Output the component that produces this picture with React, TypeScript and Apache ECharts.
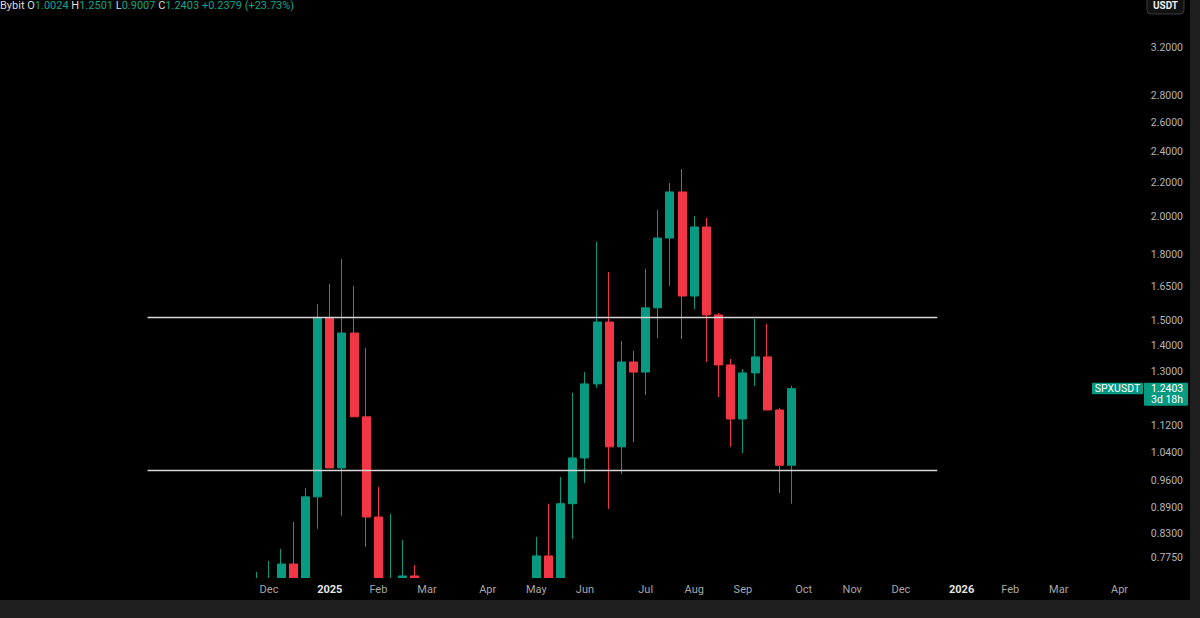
import React, { useEffect, useRef } from "react";
import * as echarts from "echarts";

// ---------- data ----------
const MONTHS = ["Jan", "Feb", "Mar", "Apr", "May", "Jun", "Jul", "Aug", "Sep", "Oct", "Nov", "Dec"];

// weekly calendar of the axis (Monday of each week), Jul 2024 -> Apr 2026
function buildWeeks(y: number, m: number, d: number, n: number): string[] {
  const out: string[] = [];
  const t0 = Date.UTC(y, m, d);
  for (let i = 0; i < n; i++) out.push(new Date(t0 + i * 7 * 86400000).toISOString().slice(0, 10));
  return out;
}
const WEEKS = buildWeeks(2024, 6, 8, 93);
const firstLabelWeek = "2024-12-02";

const candleDates = [
  "2024-11-25", "2024-12-02", "2024-12-09", "2024-12-16", "2024-12-23", "2024-12-30",
  "2025-01-06", "2025-01-13", "2025-01-20", "2025-01-27", "2025-02-03", "2025-02-10",
  "2025-02-17", "2025-02-24",
  "2025-05-05", "2025-05-12", "2025-05-19", "2025-05-26", "2025-06-02", "2025-06-09",
  "2025-06-16", "2025-06-23", "2025-06-30", "2025-07-07", "2025-07-14", "2025-07-21",
  "2025-07-28", "2025-08-04", "2025-08-11", "2025-08-18", "2025-08-25", "2025-09-01",
  "2025-09-08", "2025-09-15", "2025-09-22", "2025-09-29",
];
const opens = [
  0.62, 0.70, 0.71, 0.7616, 0.70, 0.918, 1.51, 0.995, 1.448, 1.147, 0.868, 0.66, 0.70, 0.7367,
  0.62, 0.7789, 0.71, 0.9007, 1.023, 1.257, 1.493, 1.055, 1.336, 1.299, 1.553, 1.886,
  2.144, 1.605, 1.945, 1.523, 1.325, 1.14, 1.296, 1.355, 1.169, 1.0024,
];
const closes = [
  0.70, 0.71, 0.7616, 0.70, 0.918, 1.51, 0.995, 1.448, 1.147, 0.868, 0.66, 0.70, 0.7367, 0.60,
  0.7789, 0.71, 0.9007, 1.023, 1.257, 1.493, 1.055, 1.336, 1.299, 1.553, 1.886, 2.144,
  1.605, 1.945, 1.523, 1.325, 1.14, 1.296, 1.355, 1.169, 1.0024, 1.2403,
];
const lows = [
  0.58, 0.63, 0.66, 0.64, 0.67, 0.84, 0.995, 0.871, 1.147, 0.799, 0.62, 0.58, 0.62, 0.55,
  0.58, 0.66, 0.68, 0.8167, 0.954, 1.243, 0.8877, 0.978, 1.069, 1.219, 1.428, 1.651,
  1.424, 1.547, 1.336, 1.212, 1.055, 1.037, 1.25, 1.169, 0.928, 0.9007,
];
const highs = [
  0.745, 0.768, 0.794, 0.856, 0.941, 1.57, 1.66, 1.78, 1.651, 1.389, 0.944, 0.8755, 0.8144, 0.7594,
  0.821, 0.9007, 0.97, 1.226, 1.299, 1.866, 1.716, 1.416, 1.378, 1.731, 2.039, 2.198,
  2.285, 2.005, 1.994, 1.531, 1.347, 1.31, 1.506, 1.485, 1.176, 1.2501,
];

const priceTicks = [3.2, 2.8, 2.6, 2.4, 2.2, 2.0, 1.8, 1.65, 1.5, 1.4, 1.3, 1.12, 1.04, 0.96, 0.89, 0.83, 0.775];
const priceRange = [0.7325, 3.657];

const levelPrices = [1.512, 0.988];
const levelSpan = ["2024-09-23", "2025-12-22"];

const lastClose = 1.2403;
const symbolName = "SPXUSDT";
const countdown = "3d 18h";
const legendValues = { o: "1.0024", h: "1.2501", l: "0.9007", c: "1.2403", chg: "+0.2379 (+23.73%)" };

// ---------- styles ----------
const UP = "#089981";
const DOWN = "#f23645";
const FONT = "Roboto, 'Noto Sans', sans-serif";

function buildOption() {
  const idx: Record<string, number> = {};
  candleDates.forEach((d, i) => (idx[d] = i));
  const seriesData = WEEKS.map((w) => {
    const i = idx[w];
    if (i === undefined) return "-";
    return [Math.log(opens[i]), Math.log(closes[i]), Math.log(lows[i]), Math.log(highs[i])];
  });

  return {
    animation: false,
    backgroundColor: "#000000",
    grid: { left: 7.8, right: 62.25, top: 0, bottom: 40, containLabel: false, outerBoundsMode: "none" },
    xAxis: {
      type: "category",
      z: 20,
      data: WEEKS,
      boundaryGap: true,
      axisLine: { show: false },
      axisTick: { show: false },
      splitLine: { show: false },
      axisLabel: {
        interval: (_i: number, v: string) => v >= firstLabelWeek && Number(v.slice(8, 10)) <= 7,
        margin: 6,
        fontFamily: FONT,
        fontSize: 11,
        color: "#a6a6a6",
        formatter: (v: string) => {
          const m = Number(v.slice(5, 7)) - 1;
          if (m === 0) return "{y|" + v.slice(0, 4) + "}";
          return MONTHS[m];
        },
        rich: { y: { fontFamily: FONT, fontSize: 11, fontWeight: "bold", color: "#e6e6e6" } },
      },
    },
    yAxis: {
      type: "value",
      position: "right",
      z: 20,
      min: Math.log(priceRange[0]),
      max: Math.log(priceRange[1]),
      scale: true,
      axisLine: { show: false },
      axisTick: { show: false },
      splitLine: { show: false },
      axisLabel: {
        customValues: priceTicks.map((p) => Math.log(p)),
        formatter: (v: number) => Math.exp(v).toFixed(4),
        margin: 13,
        fontFamily: FONT,
        fontSize: 10.5,
        color: "#b4b4b4",
      },
    },
    series: [
      {
        type: "candlestick",
        z: 2,
        data: seriesData,
        barWidth: 8.5,
        clip: true,
        itemStyle: { color: UP, color0: DOWN, borderColor: UP, borderColor0: DOWN, borderWidth: 1 },
        markLine: {
          silent: true,
          symbol: ["none", "none"],
          label: { show: false },
          lineStyle: { color: "#d6d6d6", width: 1.3, type: "solid" },
          data: levelPrices.map((p) => [
            { coord: [levelSpan[0], Math.log(p)] },
            { coord: [levelSpan[1], Math.log(p)] },
          ]),
        },
      },
    ],
  };
}

function buildGraphic(yc: number, plotBottom: number) {
  return [
    // black band under the plot so partially hidden candles end at the plot edge
    { type: "rect", z: 10, shape: { x: 0, y: plotBottom, width: 1190, height: 600 - plotBottom }, style: { fill: "#000000" } },
    { type: "rect", z: 100, shape: { x: 1190, y: 0, width: 10, height: 618 }, style: { fill: "#1e1e1e" } },
    { type: "rect", z: 100, shape: { x: 0, y: 600, width: 1200, height: 18 }, style: { fill: "#1e1e1e" } },
    {
      type: "rect",
      z: 100,
      shape: { x: 1147, y: -6, width: 37, height: 20, r: 4 },
      style: { fill: "#121212", stroke: "#3a3a3a", lineWidth: 1 },
    },
    {
      type: "text",
      z: 101,
      x: 1165.5,
      y: 5,
      style: { text: "USDT", fill: "#ececec", font: "bold 10px " + FONT, align: "center", verticalAlign: "middle" },
    },
    {
      type: "text",
      z: 101,
      x: 0,
      y: 5.5,
      style: {
        text:
          "{w|Bybit} {w|O}{g|" + legendValues.o + "} {w|H}{g|" + legendValues.h + "} {w|L}{g|" +
          legendValues.l + "} {w|C}{g|" + legendValues.c + "} {g|" + legendValues.chg + "}",
        font: "11px " + FONT,
        verticalAlign: "middle",
        align: "left",
        fill: "#dcdcdc",
        rich: {
          w: { fill: "#dcdcdc", font: "11px " + FONT },
          g: { fill: "#11a688", font: "11px " + FONT },
        },
      },
    },
    {
      type: "rect",
      z: 100,
      shape: { x: 1092, y: yc - 6, width: 51, height: 11.5, r: 1 },
      style: { fill: UP },
    },
    {
      type: "text",
      z: 101,
      x: 1117.5,
      y: yc - 0.2,
      style: { text: symbolName, fill: "#ffffff", font: "10.5px " + FONT, align: "center", verticalAlign: "middle" },
    },
    {
      type: "rect",
      z: 100,
      shape: { x: 1144, y: yc - 6, width: 44, height: 23, r: 1 },
      style: { fill: UP },
    },
    {
      type: "text",
      z: 101,
      x: 1151,
      y: yc - 0.2,
      style: { text: lastClose.toFixed(4), fill: "#ffffff", font: "10.5px " + FONT, align: "left", verticalAlign: "middle" },
    },
    {
      type: "text",
      z: 101,
      x: 1151,
      y: yc + 10.8,
      style: { text: countdown, fill: "#ffffff", font: "10.5px " + FONT, align: "left", verticalAlign: "middle" },
    },
  ];
}

export default function App() {
  const ref = useRef<HTMLDivElement>(null);
  useEffect(() => {
    document.body.style.margin = "0";
    if (!ref.current) return;
    const chart = echarts.init(ref.current, null, { renderer: "svg" });
    chart.setOption(buildOption() as any);
    const yc = chart.convertToPixel({ yAxisIndex: 0 }, Math.log(lastClose)) as number;
    const plotBottom = chart.convertToPixel({ yAxisIndex: 0 }, Math.log(priceRange[0])) as number;
    chart.setOption({ graphic: buildGraphic(yc, plotBottom) } as any);
    return () => chart.dispose();
  }, []);
  return (
    <div
      ref={ref}
      style={{ position: "absolute", left: 0, top: 0, width: 1200, height: 618, background: "#000" }}
    />
  );
}
